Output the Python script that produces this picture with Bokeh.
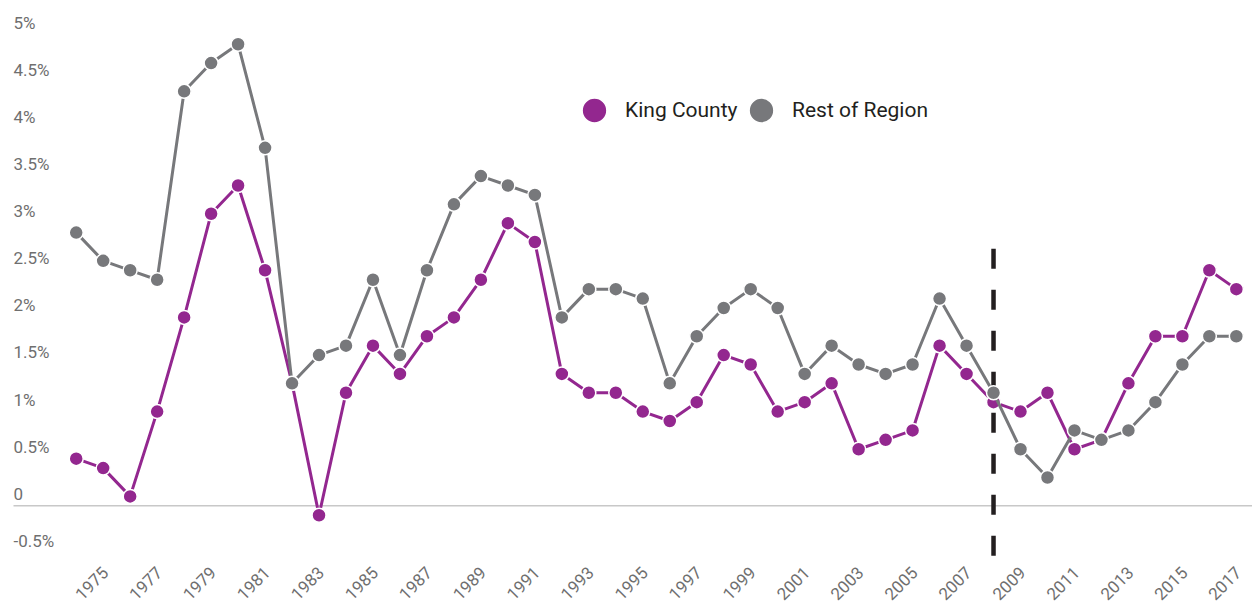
import math
from bokeh.plotting import figure
from bokeh.models import Range1d, ColumnDataSource, Legend, LegendItem
from bokeh.core.properties import value
from bokeh.embed import file_html
from bokeh.resources import INLINE

# ---------------- data ----------------
years = list(range(1974, 2018))
king_county = [0.5, 0.4, 0.1, 1.0, 2.0, 3.1, 3.4, 2.5, 1.3, -0.1, 1.2,
               1.7, 1.4, 1.8, 2.0, 2.4, 3.0, 2.8, 1.4, 1.2, 1.2, 1.0, 0.9,
               1.1, 1.6, 1.5, 1.0, 1.1, 1.3, 0.6, 0.7, 0.8, 1.7,
               1.4, 1.1, 1.0, 1.2, 0.6, 0.7, 1.3, 1.8, 1.8, 2.5, 2.3]
rest_of_region = [2.9, 2.6, 2.5, 2.4, 4.4, 4.7, 4.9, 3.8, 1.3, 1.6, 1.7,
                  2.4, 1.6, 2.5, 3.2, 3.5, 3.4, 3.3, 2.0, 2.3, 2.3, 2.2, 1.3,
                  1.8, 2.1, 2.3, 2.1, 1.4, 1.7, 1.5, 1.4, 1.5, 2.2,
                  1.7, 1.2, 0.6, 0.3, 0.8, 0.7, 0.8, 1.1, 1.5, 1.8, 1.8]
series_names = ["King County", "Rest of Region"]
y_ticks = [-0.5, 0, 0.5, 1, 1.5, 2, 2.5, 3, 3.5, 4, 4.5, 5]
y_tick_labels = ["-0.5%", "0", "0.5%", "1%", "1.5%", "2%", "2.5%", "3%",
                 "3.5%", "4%", "4.5%", "5%"]
x_tick_years = list(range(1975, 2018, 2))
x_tick_labels = [str(y) for y in x_tick_years]
marker_year = 2008
marker_span = [2.73, -0.54]

# ---------------- style ----------------
PURPLE = "#93278f"
GRAY = "#77787b"
TEXT_GRAY = "#6f6f6f"
FONT = "Roboto"

W, H = 1252, 606
XMIN, XMAX = 1971.194, 2017.599
YMIN, YMAX = -1.069, 5.364

p = figure(width=W, height=H,
           x_range=Range1d(XMIN, XMAX), y_range=Range1d(YMIN, YMAX),
           x_axis_type=None, y_axis_type=None,
           toolbar_location=None, output_backend="svg",
           min_border=0, outline_line_color=None,
           background_fill_color="white", border_fill_color="white")

# zero line
px_per_year = W / (XMAX - XMIN)
p.segment(x0=[XMIN + 13 / px_per_year], y0=[0], x1=[XMAX], y1=[0],
          line_color="#c8c8c8", line_width=1.5)

# dashed marker line
p.segment(x0=[marker_year], y0=[marker_span[0]], x1=[marker_year], y1=[marker_span[1]],
          line_color="#231f20", line_width=4.5, line_dash="20 21")

src = ColumnDataSource(dict(year=years, king=king_county, rest=rest_of_region))

p.line("year", "king", source=src, line_color=PURPLE, line_width=3)
k_pts = p.scatter("year", "king", source=src, size=14, fill_color=PURPLE,
                  line_color="white", line_width=1.5)
p.line("year", "rest", source=src, line_color=GRAY, line_width=3)
r_pts = p.scatter("year", "rest", source=src, size=14, fill_color=GRAY,
                  line_color="white", line_width=1.5)

# y tick labels
ysrc = ColumnDataSource(dict(x=[XMIN] * len(y_ticks), y=y_ticks, t=y_tick_labels))
p.text("x", "y", text="t", source=ysrc, x_offset=13, y_offset=-12,
       text_align="left", text_baseline="alphabetic",
       text_font=value(FONT), text_font_size="17px", text_color=TEXT_GRAY)

# x tick labels
xsrc = ColumnDataSource(dict(x=x_tick_years, y=[-0.68] * len(x_tick_years), t=x_tick_labels))
p.text("x", "y", text="t", source=xsrc, x_offset=2, angle=math.pi / 4,
       text_align="right", text_baseline="middle",
       text_font=value(FONT), text_font_size="17px", text_color=TEXT_GRAY)

common = dict(orientation="horizontal", glyph_width=62, glyph_height=62,
              label_standoff=0, spacing=0, padding=0, margin=0,
              border_line_color=None, background_fill_alpha=0,
              label_text_font=FONT, label_text_font_size="21px",
              label_text_color="#231f20")
legend_k = Legend(items=[LegendItem(label=series_names[0], renderers=[k_pts])],
                  location=(563, 465), **common)
legend_r = Legend(items=[LegendItem(label=series_names[1], renderers=[r_pts])],
                  location=(730, 465), **common)
p.add_layout(legend_k)
p.add_layout(legend_r)

open("out.html", "w").write(file_html(p, INLINE))
